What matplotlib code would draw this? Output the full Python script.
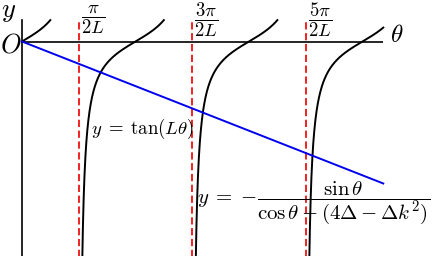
import numpy as np
import matplotlib
matplotlib.use("Agg")
import matplotlib.pyplot as plt

plt.rcParams['mathtext.fontset'] = 'cm'
plt.rcParams['font.family'] = ['DejaVu Serif']

# --- data ---
L = 1.0
theta_max = 10.0
asymptotes = [np.pi / 2, 3 * np.pi / 2, 5 * np.pi / 2]
asym_labels = [r'$\dfrac{\pi}{2L}$', r'$\dfrac{3\pi}{2L}$', r'$\dfrac{5\pi}{2L}$']
line_end = [0.0, theta_max]
line_vals = [0.0, -6.62]
y_bottom, y_top = -10.0, 1.0

W, H = 436, 256
fig = plt.figure(figsize=(W / 100, H / 100), dpi=100)
ax = fig.add_axes([0, 0, 1, 1])
ax.axis('off')

px_x = 36.13      # px per theta unit
px_y = 21.45      # px per y unit
ox, oy = 22.0, 41.5
ax.set_xlim(-ox / px_x, (W - ox) / px_x)
ax.set_ylim(-(H - oy) / px_y, oy / px_y)

# axes lines
ax.plot([0, theta_max], [0, 0], color='black', lw=1.2, solid_capstyle='butt')
ax.plot([0, 0], [y_bottom - 1, y_top], color='black', lw=1.2)

# red dashed asymptotes
for a in asymptotes:
    ax.plot([a, a], [y_bottom - 1, y_top], color='#ee1111', lw=1.3,
            dashes=(4, 2))

# tan branches
edges = [0.0] + asymptotes + [theta_max]
for i in range(len(edges) - 1):
    lo = edges[i] + (1e-4 if i > 0 else 0)
    hi = edges[i + 1] - 1e-4
    t = np.linspace(lo, hi, 600)
    y = np.tan(L * t)
    y[(y > y_top) | (y < y_bottom - 2)] = np.nan
    ax.plot(t, y, color='black', lw=1.4)

# blue line
ax.plot(line_end, line_vals, color='#0000ee', lw=1.4)

# labels
def ft(x, y, s, **kw):
    fig.text(x / W, 1 - y / H, s, **kw)

ft(1, 11, r'$y$', fontsize=19, va='center', ha='left')
ft(0, 45, r'$O$', fontsize=19, va='center', ha='left')
ft(390, 35, r'$\theta$', fontsize=18, va='center', ha='left')
for a, lab in zip(asymptotes, asym_labels):
    xp = ox + a * px_x + 2
    ft(xp, 20, lab, fontsize=13.5, va='center', ha='left')
ft(91, 129, r'$y\;=\;\tan(L\theta)$', fontsize=13.5, va='center', ha='left')
ft(197, 203, r'$y\;=\;{-}\dfrac{\sin\theta}{\cos\theta - (4\Delta - \Delta k^2)}$',
   fontsize=15, va='center', ha='left')

fig.savefig('out.png', dpi=100)
